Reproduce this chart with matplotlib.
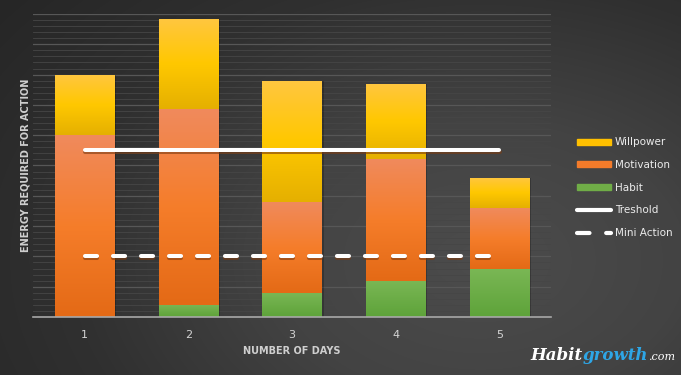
import numpy as np
import matplotlib
matplotlib.use('Agg')
import matplotlib.pyplot as plt
import matplotlib.patheffects as pe
from matplotlib.colors import LinearSegmentedColormap
from matplotlib.lines import Line2D
from matplotlib.patches import Patch
from matplotlib.offsetbox import TextArea, HPacker, AnnotationBbox

# %% data
days = ['1', '2', '3', '4', '5']
habit = [0.0, 0.4, 0.8, 1.2, 1.6]
motivation = [6.0, 6.45, 3.0, 4.0, 2.0]
willpower = [2.0, 3.0, 4.0, 2.5, 1.0]
treshold = [5.5, 5.5, 5.5, 5.5, 5.5]
mini_action = [2.0, 2.0, 2.0, 2.0, 2.0]

# gradient stops per series (top -> bottom)
grad = {
    'Willpower': ['#ffc640', '#ffc800', '#e5b000'],
    'Motivation': ['#f08a5c', '#f57d2a', '#e46a16'],
    'Habit': ['#7ab755', '#6cad47', '#5ea33a'],
}
flat = {'Willpower': '#ffc000', 'Motivation': '#f47b2a', 'Habit': '#70ad47'}

# %% figure + background
fig = plt.figure(figsize=(6.81, 3.75), dpi=100)
bg = fig.add_axes([0, 0, 1, 1], zorder=-10)
yy, xx = np.mgrid[0:375, 0:681]
r = np.sqrt(((xx - 480) / 560.0) ** 2 + ((yy - 260) / 380.0) ** 2)
r = np.clip(r / r.max(), 0, 1)
bg_cmap = LinearSegmentedColormap.from_list('bg', ['#4c4c4c', '#434343', '#303030', '#262626'])
bg.imshow(r, cmap=bg_cmap, aspect='auto', extent=[0, 1, 0, 1], vmin=0, vmax=1)
bg.axis('off')

ax = fig.add_axes([33 / 681, 58 / 375, 518 / 681, 303 / 375])
ax.set_facecolor('none')
x = np.arange(len(days))

# gridlines
for v in np.arange(0.2, 10.01, 0.2):
    major = abs(v - round(v)) < 1e-6
    ax.axhline(v, color='#575757' if major else '#464646', lw=0.9 if major else 0.6, zorder=0)

width = 0.57
bottom = np.zeros(len(days))
for name, vals in [('Habit', habit), ('Motivation', motivation), ('Willpower', willpower)]:
    cmap = LinearSegmentedColormap.from_list(name, grad[name][::-1])
    bars = ax.bar(x, vals, width, bottom=bottom, color=flat[name], zorder=2, lw=0)
    for b in bars:
        if b.get_height() <= 0:
            continue
        x0, y0 = b.get_x(), b.get_y()
        img = ax.imshow(np.linspace(0, 1, 100).reshape(-1, 1), cmap=cmap, aspect='auto',
                        extent=[x0, x0 + b.get_width(), y0, y0 + b.get_height()],
                        origin='lower', zorder=3, interpolation='bicubic')
        img.set_clip_path(b)
    bottom += np.array(vals)

# bar shadows
for i in range(len(days)):
    ax.bar(x[i] + 0.02, bottom[i], width, color='black', alpha=0.22, zorder=1, lw=0)

ax.set_xlim(-0.5, 4.5)
ax.set_ylim(0, 10)

shadow = [pe.SimpleLineShadow(offset=(0.5, -1.5), shadow_color='#7a3a10', alpha=0.6), pe.Normal()]
ax.plot(x, treshold, color='white', lw=2.9, solid_capstyle='round', zorder=5, path_effects=shadow)
ma, = ax.plot(x, mini_action, color='white', lw=2.9, dash_capstyle='round', zorder=5, path_effects=shadow)
ma.set_dashes((3, 3.95))

ax.set_xticks(x)
ax.set_xticklabels(days, color='#d4d4d4', fontsize=8)
ax.set_yticks([])
ax.tick_params(axis='x', length=0, pad=9)
for s in ['top', 'right', 'left']:
    ax.spines[s].set_visible(False)
ax.spines['bottom'].set_color('#a8a8a8')
ax.spines['bottom'].set_linewidth(1.2)
ax.spines['bottom'].set_zorder(6)

ax.set_xlabel('NUMBER OF DAYS', color='#cfcfcf', fontsize=7, fontweight='bold', labelpad=5)
ax.set_ylabel('ENERGY REQUIRED FOR ACTION', color='#cfcfcf', fontsize=7, fontweight='bold', labelpad=2)

handles = [Patch(color=flat['Willpower']), Patch(color=flat['Motivation']), Patch(color=flat['Habit']),
           Line2D([], [], color='white', lw=3, solid_capstyle='round'),
           Line2D([], [], color='white', lw=3, dash_capstyle='round', dashes=(3, 4))]
labels = ['Willpower', 'Motivation', 'Habit', 'Treshold', 'Mini Action']
leg = fig.legend(handles, labels, loc='upper left', bbox_to_anchor=(568 / 681, 1 - 128 / 375),
                 frameon=False, fontsize=7.5, labelcolor='#ececec', handlelength=3.2,
                 handleheight=0.5, labelspacing=1.22, handletextpad=0.4)

# logo
parts = [TextArea('Habit', textprops=dict(color='white', fontsize=12, fontweight='bold', style='italic', family='DejaVu Serif')),
         TextArea('growth', textprops=dict(color='#2ea6e6', fontsize=12, fontweight='bold', style='italic', family='DejaVu Serif')),
         TextArea('.com', textprops=dict(color='white', fontsize=8, style='italic', family='DejaVu Serif'))]
box = HPacker(children=parts, align='baseline', pad=0, sep=0)
ab = AnnotationBbox(box, (675 / 681, 1 - 356 / 375), xycoords='figure fraction', box_alignment=(1, 0.5),
                    frameon=False)
fig.add_artist(ab)

fig.savefig('out.png', dpi=100)
